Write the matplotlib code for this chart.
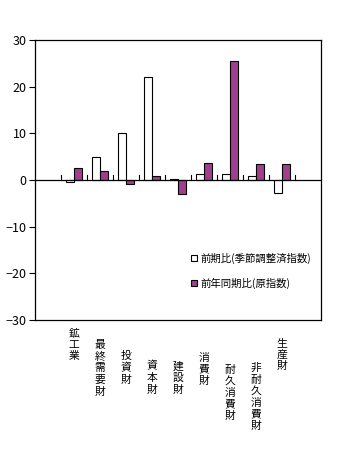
import matplotlib
matplotlib.use('Agg')
import matplotlib.pyplot as plt
import numpy as np

plt.rcParams['font.family'] = ['Noto Sans CJK JP', 'DejaVu Sans']

# 業種別の変化率（%）
categories = ['鉱工業', '最終需要財', '投資財', '資本財', '建設財',
              '消費財', '耐久消費財', '非耐久消費財', '生産財']
qoq = [-0.4, 5.0, 10.0, 22.1, 0.2, 1.3, 1.3, 0.8, -2.8]    # 前期比（季節調整済指数）
yoy = [2.6, 2.0, -0.9, 0.9, -3.0, 3.7, 25.5, 3.5, 3.5]     # 前年同期比（原指数）
series_names = ['前期比(季節調整済指数)', '前年同期比(原指数)']

# ラベルの上端位置（図の上からのピクセル）
label_top_px = [328, 340, 351, 361, 361, 353, 365, 363, 338]

W, H = 338, 458
fig = plt.figure(figsize=(W / 100, H / 100), dpi=100)
ax = fig.add_axes([35 / W, (H - 320) / H, 286 / W, 280 / H])

x = np.arange(1, len(categories) + 1)
bw = 0.31
ax.bar(x - bw / 2, qoq, bw, color='white', edgecolor='black', linewidth=0.8,
       label=series_names[0])
ax.bar(x + bw / 2, yoy, bw, color='#a03f8e', edgecolor='black', linewidth=0.8,
       label=series_names[1])

ax.set_xlim(-0.5, len(categories) + 1.5)
ax.set_ylim(-30, 30)
ax.set_yticks(range(-30, 31, 10))
ax.tick_params(axis='y', direction='out', length=4, labelsize=9, pad=2)
ax.set_xticks([])
for s in ax.spines.values():
    s.set_linewidth(0.9)

# ゼロ線と区切りの目盛り
ax.axhline(0, color='black', linewidth=0.9)
for b in np.append(x - 0.5, x[-1] + 0.5):
    ax.plot([b, b], [0, 1.0], color='black', linewidth=0.8)

# 縦書きの項目名
for xi, name, top in zip(x, categories, label_top_px):
    fx = ax.transData.transform((xi, 0))[0] / W
    fig.text(fx, 1 - top / H, '\n'.join(name), ha='center', va='top',
             fontsize=7.8, linespacing=1.2)

ax.legend(loc='upper left', bbox_to_anchor=(0.53, 0.255), frameon=False,
          fontsize=7.5, handlelength=0.6, handleheight=0.6, handletextpad=0.3,
          labelspacing=1.3, borderaxespad=0)

fig.savefig('out.png', dpi=100)
